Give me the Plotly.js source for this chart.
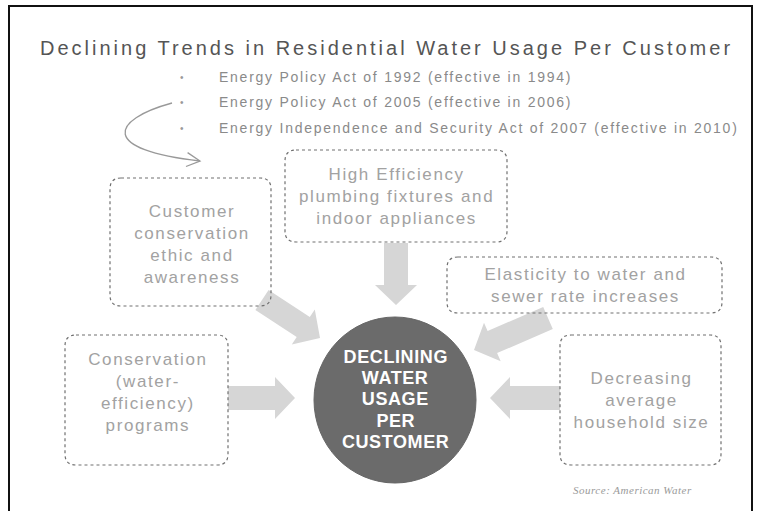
<!DOCTYPE html>
<html>
<head>
<meta charset="utf-8">
<script src="https://cdn.plot.ly/plotly-3.0.1.min.js"></script>
<style>
html,body{margin:0;padding:0;background:#fff;}
#chart{width:760px;height:511px;}
</style>
</head>
<body>
<div id="chart"></div>
<script>
// ---- content ----
const titleText = "Declining Trends in Residential Water Usage Per Customer";
const actLabels = [
  "Energy Policy Act of 1992 (effective in 1994)",
  "Energy Policy Act of 2005 (effective in 2006)",
  "Energy Independence and Security Act of 2007 (effective in 2010)"
];
const factorLabels = [
  "Customer<br>conservation<br>ethic and<br>awareness",
  "High Efficiency<br>plumbing fixtures and<br>indoor appliances",
  "Elasticity to water and<br>sewer rate increases",
  "Conservation<br>(water-<br>efficiency)<br>programs",
  "Decreasing<br>average<br>household size"
];
const centerWords = ["DECLINING", "WATER", "USAGE", "PER", "CUSTOMER"];
const sourceLabel = "Source: American Water";

// ---- geometry (layout only) ----
const boxes = [
  [110, 178, 271, 306],
  [285, 150, 507, 242],
  [447, 257, 722, 313],
  [65, 335, 228, 465],
  [560, 335, 721, 465]
];
const boxTextY = [244, 196, 285, 392, 400];
const arrows = [
  [262, 300, 320, 338],
  [396, 243, 396, 305],
  [548, 318, 474, 350],
  [228, 398, 295, 398],
  [560, 398, 490, 398]
];
const circle = [314, 317, 476, 483];
const actY = [77, 102, 128];

function roundRect(b, r) {
  const [x0, y0, x1, y1] = b;
  return `M ${x0+r},${y0} L ${x1-r},${y0} Q ${x1},${y0} ${x1},${y0+r} L ${x1},${y1-r} Q ${x1},${y1} ${x1-r},${y1} L ${x0+r},${y1} Q ${x0},${y1} ${x0},${y1-r} L ${x0},${y0+r} Q ${x0},${y0} ${x0+r},${y0} Z`;
}
function blockArrow(a, bh, hh, hl) {
  const [x0, y0, x1, y1] = a;
  const dx = x1 - x0, dy = y1 - y0, L = Math.hypot(dx, dy);
  const ux = dx / L, uy = dy / L, nx = -uy, ny = ux;
  const bx = x1 - ux * hl, by = y1 - uy * hl;
  const p = [
    [x0 + nx*bh, y0 + ny*bh],
    [bx + nx*bh, by + ny*bh],
    [bx + nx*hh, by + ny*hh],
    [x1, y1],
    [bx - nx*hh, by - ny*hh],
    [bx - nx*bh, by - ny*bh],
    [x0 - nx*bh, y0 - ny*bh]
  ];
  return 'M ' + p.map(q => q[0].toFixed(1) + ',' + q[1].toFixed(1)).join(' L ') + ' Z';
}

const shapes = [];
// frame
shapes.push({type:'path', path:'M 9,511 L 9,6 L 752,6 L 752,511', line:{color:'#111', width:2}, layer:'below'});
// arrows
arrows.forEach(a => shapes.push({type:'path', path: blockArrow(a, 12, 21, 20), fillcolor:'#d6d6d6', line:{width:0}, layer:'below'}));
// boxes
boxes.forEach(b => shapes.push({type:'path', path: roundRect(b, 11), fillcolor:'rgba(255,255,255,0)', line:{color:'#707070', width:1.2, dash:'dot'}}));
// circle
shapes.push({type:'circle', x0:circle[0], y0:circle[1], x1:circle[2], y1:circle[3], fillcolor:'#6b6b6b', line:{color:'#666', width:1}});
// curved arrow
shapes.push({type:'path', path:'M 172,103 C 110,120 100,150 200,161', line:{color:'#999', width:1.3}});
shapes.push({type:'path', path:'M 187.6,152.6 L 200,161 L 186,166.5', line:{color:'#999', width:1.3}});

const annotations = [];
const spacing = [];
function ann(o, ls) { annotations.push(Object.assign({xref:'x', yref:'y', showarrow:false}, o)); spacing.push(ls); }

ann({x:38, y:48, xanchor:'left', yanchor:'middle', align:'left', text:titleText, font:{family:'Liberation Sans, Arial', size:20, color:'#555'}}, 3);
actLabels.forEach((t, i) => {
  ann({x:182, y:actY[i], xanchor:'center', yanchor:'middle', text:'•', font:{family:'Liberation Sans, Arial', size:10, color:'#9a9a9a'}}, 0);
  ann({x:217, y:actY[i], xanchor:'left', yanchor:'middle', align:'left', text:t, font:{family:'Liberation Sans, Arial', size:14, color:'#8a8a8a'}}, 1.75);
});
factorLabels.forEach((t, i) => {
  const b = boxes[i];
  ann({x:(b[0]+b[2])/2, y:boxTextY[i], xanchor:'center', yanchor:'middle', align:'center', text:t, font:{family:'Liberation Sans, Arial', size:17, color:'#a2a2a2'}}, 1.6);
});
centerWords.forEach((w, i) => {
  ann({x:(circle[0]+circle[2])/2, y:357 + 21.2*i, xanchor:'center', yanchor:'middle', text:w, font:{family:'Liberation Sans, Arial', size:18, color:'#fff', weight:'bold'}}, 0.6);
});
ann({x:632, y:490, xanchor:'center', yanchor:'middle', text:sourceLabel, font:{family:'Liberation Serif, serif', size:11, color:'#9a9a9a', style:'italic'}}, 0.5);

const layout = {
  width:760, height:511,
  margin:{l:0, r:0, t:0, b:0},
  paper_bgcolor:'#fff', plot_bgcolor:'#fff',
  xaxis:{range:[0,760], visible:false, fixedrange:true},
  yaxis:{range:[511,0], visible:false, fixedrange:true},
  showlegend:false,
  shapes:shapes,
  annotations:annotations
};

Plotly.newPlot('chart', [], layout, {displayModeBar:false, staticPlot:true}).then(() => {
  document.querySelectorAll('g.annotation').forEach(g => {
    const idx = +g.getAttribute('data-index');
    const t = g.querySelector('text');
    if (!t || !spacing[idx]) return;
    const b0 = t.getBBox();
    t.style.letterSpacing = spacing[idx] + 'px';
    const b1 = t.getBBox();
    const left = annotations[idx].xanchor === 'left';
    const dx = left ? (b0.x - b1.x) : ((b0.x + b0.width / 2) - (b1.x + b1.width / 2) + spacing[idx] / 2);
    const tr = t.getAttribute('transform') || '';
    t.setAttribute('transform', tr + ' translate(' + dx.toFixed(2) + ',0)');
  });
});
</script>
</body>
</html>
